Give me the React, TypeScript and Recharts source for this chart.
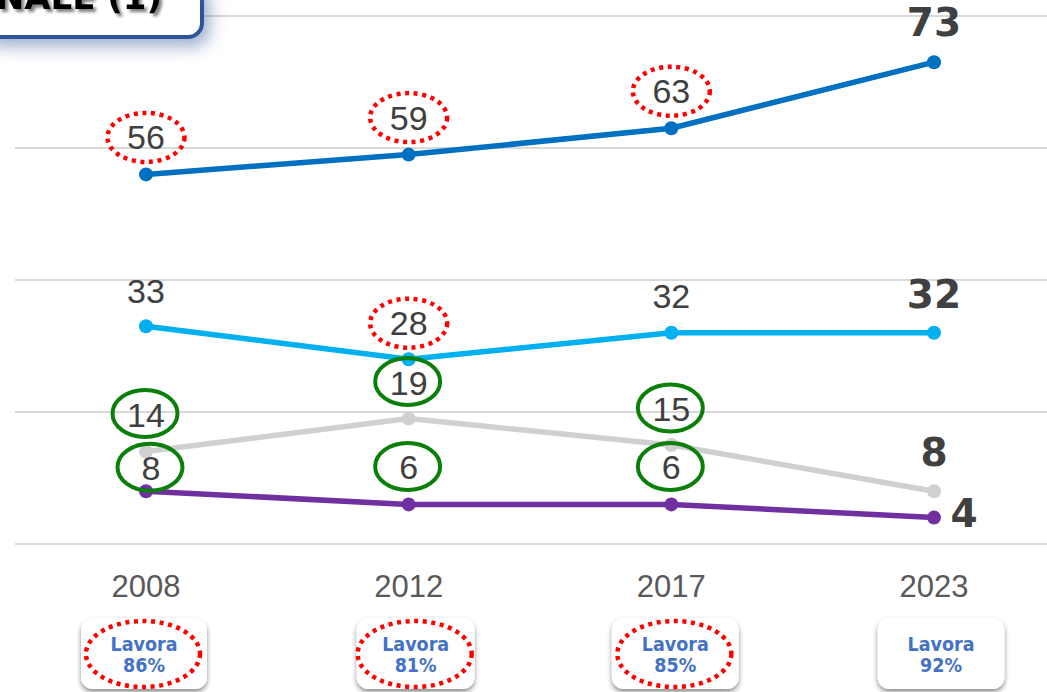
import React from 'react';
import { LineChart, Line, XAxis, YAxis, CartesianGrid, LabelList } from 'recharts';

// ---- data ----
const years = ['2008', '2012', '2017', '2023'];
const serieA = [56, 59, 63, 73];
const serieB = [33, 28, 32, 32];
const serieC = [14, 19, 15, 8];
const serieD = [8, 6, 6, 4];
const lavora = [86, 81, 85, 92];
const yTicks = [0, 20, 40, 60, 80];
const titleText = 'NAZIONALE (1)';

const data = years.map((year, i) => ({
  year,
  a: serieA[i],
  b: serieB[i],
  c: serieC[i],
  d: serieD[i],
  lavora: lavora[i],
}));

// ---- styles ----
const colors = { a: '#0070C0', b: '#00B0F0', c: '#D0D0D0', d: '#7030A0' };
type Mark = 'red' | 'green' | null;
const labelStyles: Record<string, { dx: number[]; dy: number[]; marks: Mark[] }> = {
  a: { dx: [0, 0, 0, 0], dy: [-37, -37, -37, -40], marks: ['red', 'red', 'red', null] },
  b: { dx: [0, 0, 0, 0], dy: [-35, -36, -37, -39], marks: [null, 'red', null, null] },
  c: { dx: [0, 0, 0, 0], dy: [-37, -36, -36, -39], marks: ['green', 'green', 'green', null] },
  d: { dx: [5, 0, 0, 30], dy: [-23, -37, -37, -5], marks: ['green', 'green', 'green', null] },
};
const boxDx = [-2, 7, 4, 7];
const boxW = [126, 118, 127, 127];
const boxMarks = [true, true, true, false];

const makeLabel = (key: string) => (props: any) => {
  const { x, y, value } = props;
  let index = props.index;
  if (index == null) index = 0;
  const st = labelStyles[key];
  const last = index === years.length - 1;
  const cx = Number(x) + st.dx[index];
  const cy = Number(y) + st.dy[index];
  const mark = st.marks[index];
  return (
    <g>
      {mark === 'red' && (
        <ellipse cx={cx} cy={cy} rx={38.5} ry={24.5} fill="none" stroke="#FF0000" strokeWidth={4.5} strokeDasharray="4 4.6" />
      )}
      {mark === 'green' && (
        <ellipse cx={cx - 1} cy={cy - 1} rx={32.5} ry={23.5} fill="none" stroke="#0A800A" strokeWidth={4} />
      )}
      <text
        x={cx}
        y={cy + (last ? 14 : 12)}
        textAnchor="middle"
        fontSize={last ? 39 : 34}
        fontWeight={last ? 700 : 400}
        fontFamily={last ? '"DejaVu Sans", sans-serif' : '"Liberation Sans", Arial, sans-serif'}
        fill="#404040"
      >
        {value}
      </text>
    </g>
  );
};

const YearTick = (props: any) => {
  const { x, y, payload } = props;
  const i = years.indexOf(String(payload.value));
  const cx = x + boxDx[i];
  const w = boxW[i];
  const top = y + 74;
  return (
    <g>
      <text x={x} y={y + 53} textAnchor="middle" fontSize={31} fill="#595959" fontFamily='"Liberation Sans", Arial, sans-serif'>
        {payload.value}
      </text>
      <rect x={cx - w / 2} y={top} width={w} height={71} rx={12} ry={12} fill="#FFFFFF" filter="url(#boxShadow)" />
      {boxMarks[i] && (
        <ellipse cx={cx - 1} cy={top + 36} rx={57} ry={33} fill="none" stroke="#FF0000" strokeWidth={4.5} strokeDasharray="4 4.6" />
      )}
      <text x={cx} y={top + 33} textAnchor="middle" fontSize={19.5} fontWeight={700} fill="#4472C4" fontFamily='"DejaVu Sans Condensed", "DejaVu Sans", sans-serif'>
        Lavora
      </text>
      <text x={cx} y={top + 54} textAnchor="middle" fontSize={19.5} fontWeight={700} fill="#4472C4" fontFamily='"DejaVu Sans Condensed", "DejaVu Sans", sans-serif'>
        {`${lavora[i]}%`}
      </text>
    </g>
  );
};

const seriesKeys = ['a', 'b', 'c', 'd'] as const;

export default function App() {
  return (
    <div style={{ position: 'absolute', left: 0, top: 0, width: 1047, height: 692, overflow: 'hidden', background: '#FFFFFF' }}>
      <svg width={0} height={0} style={{ position: 'absolute' }}>
        <defs>
          <filter id="boxShadow" x="-20%" y="-20%" width="140%" height="160%">
            <feDropShadow dx={0} dy={3} stdDeviation={2.5} floodColor="#000000" floodOpacity={0.45} />
          </filter>
          <filter id="titleShadow" x="-30%" y="-30%" width="160%" height="200%">
            <feDropShadow dx={6} dy={8} stdDeviation={8} floodColor="#2F5597" floodOpacity={0.45} />
          </filter>
          <filter id="textShadow" x="-10%" y="-30%" width="120%" height="160%">
            <feDropShadow dx={3} dy={3} stdDeviation={1.5} floodColor="#000000" floodOpacity={0.5} />
          </filter>
        </defs>
      </svg>
      <LineChart width={1065} height={692} data={data} margin={{ top: 16, right: 0, bottom: 0, left: 15 }}>
        <CartesianGrid vertical={false} stroke="#D9D9D9" strokeWidth={2} />
        <XAxis
          dataKey="year"
          height={148}
          axisLine={false}
          tickLine={false}
          tickSize={0}
          tickMargin={0}
          interval={0}
          padding={{ left: 131, right: 131 }}
          tick={<YearTick />}
        />
        <YAxis hide domain={[0, 80]} ticks={yTicks} />
        {seriesKeys.map((k) => (
          <Line
            key={k}
            type="linear"
            dataKey={k}
            stroke={colors[k]}
            strokeWidth={5.5}
            dot={{ r: 7, fill: colors[k], stroke: colors[k], strokeWidth: 0 }}
            activeDot={false}
            isAnimationActive={false}
          >
            <LabelList dataKey={k} content={makeLabel(k)} />
          </Line>
        ))}
      </LineChart>
      <svg width={1047} height={692} style={{ position: 'absolute', left: 0, top: 0, pointerEvents: 'none' }}>
        <rect x={-20} y={-20} width={222} height={57} rx={14} ry={14} fill="#FFFFFF" stroke="#2F5597" strokeWidth={4} filter="url(#titleShadow)" />
        <text x={162} y={9} textAnchor="end" fontSize={34} fontWeight={700} fill="#000000" fontFamily='"DejaVu Sans", sans-serif' filter="url(#textShadow)">
          {titleText}
        </text>
      </svg>
    </div>
  );
}
